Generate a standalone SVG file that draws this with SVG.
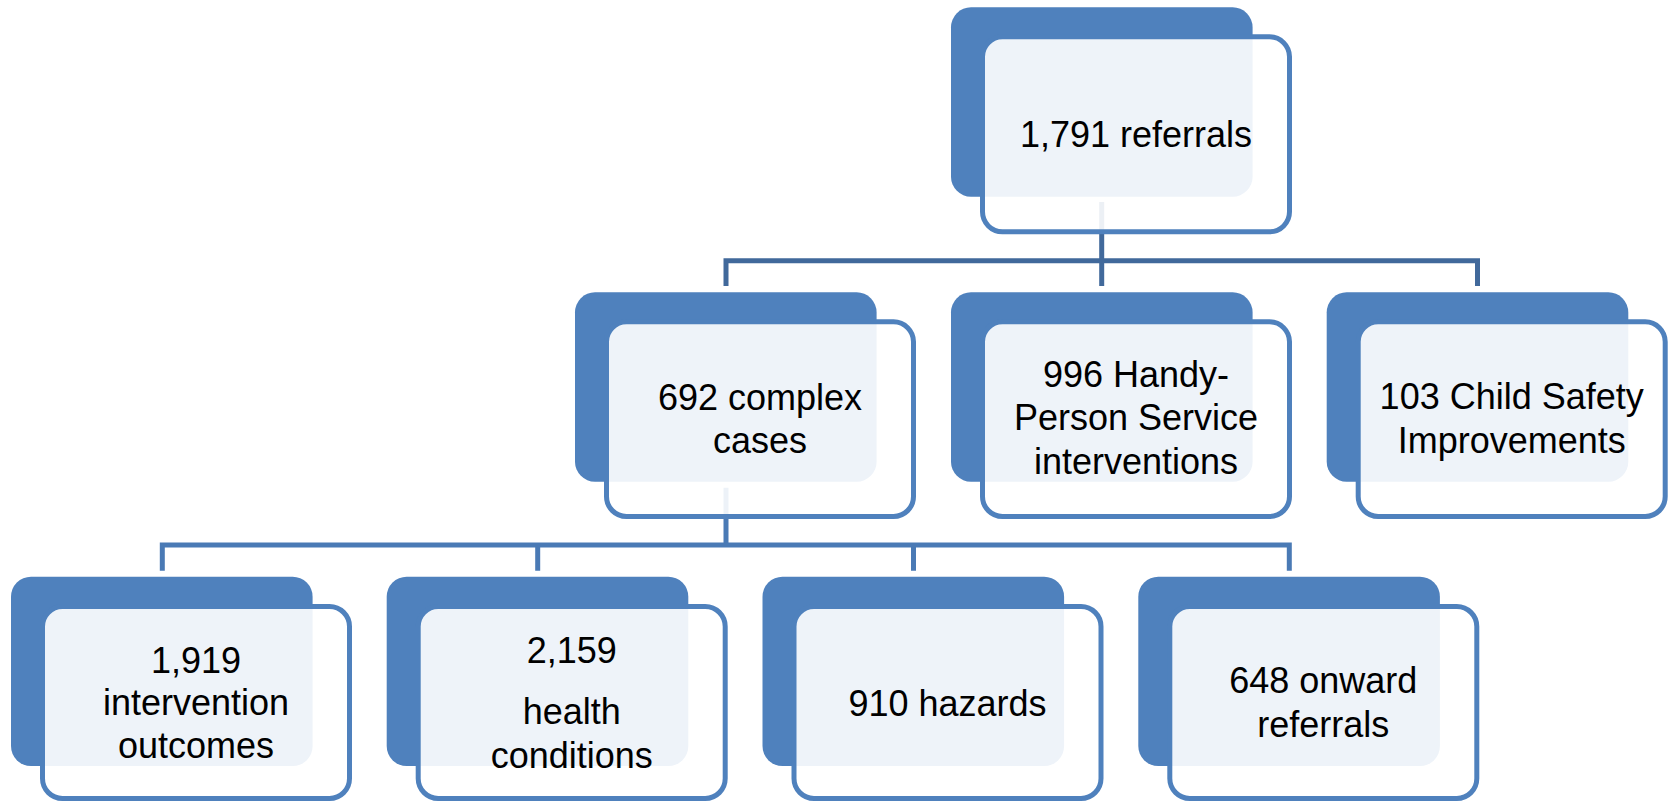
<svg xmlns="http://www.w3.org/2000/svg" width="1672" height="802" viewBox="0 0 1672 802">
<style>
.back{fill:#4F81BD;}
.front{fill:#FFFFFF;fill-opacity:0.9;stroke:#4F81BD;stroke-width:5;}
.lbl{font-family:"Liberation Sans",Arial,sans-serif;font-size:36px;fill:#000000;text-anchor:middle;}
.c1{fill:none;stroke:#41699B;stroke-width:5;}
.c2{fill:none;stroke:#4A7AB5;stroke-width:5;}
</style>
<rect width="1672" height="802" fill="#FFFFFF"/>
<g id="connectors">
<path class="c1" d="M1101.7 202 V286 M726 286 V260.7 H1477.5 V286"/>
<path class="c2" d="M726 487.7 V545 M162.3 570.7 V545 H1289.3 V570.7 M537.7 545 V570.7 M913.5 545 V570.7"/>
</g>
<g id="n-referrals">
<rect class="back" x="951" y="7.3" width="301.6" height="189.4" rx="20"/>
<rect class="front" x="982.5" y="36.8" width="307" height="195" rx="20"/>
<text class="lbl" x="1136" y="146.7">1,791 referrals</text>
</g>
<g id="n-complex">
<rect class="back" x="575" y="292.3" width="301.6" height="189.4" rx="20"/>
<rect class="front" x="606.5" y="321.8" width="307" height="194.7" rx="20"/>
<text class="lbl" x="760" y="410">692 complex</text>
<text class="lbl" x="760" y="452.7">cases</text>
</g>
<g id="n-handy">
<rect class="back" x="951" y="292.3" width="301.6" height="189.4" rx="20"/>
<rect class="front" x="982.5" y="321.8" width="307" height="194.7" rx="20"/>
<text class="lbl" x="1136" y="386.7">996 Handy-</text>
<text class="lbl" x="1136" y="430">Person Service</text>
<text class="lbl" x="1136" y="474.3">interventions</text>
</g>
<g id="n-child">
<rect class="back" x="1326.7" y="292.3" width="301.6" height="189.4" rx="20"/>
<rect class="front" x="1358.2" y="321.8" width="307" height="194.7" rx="20"/>
<text class="lbl" x="1511.7" y="409">103 Child Safety</text>
<text class="lbl" x="1511.7" y="453.3">Improvements</text>
</g>
<g id="n-outcomes">
<rect class="back" x="11" y="576.7" width="301.6" height="189.4" rx="20"/>
<rect class="front" x="42.5" y="606.5" width="307" height="192" rx="20"/>
<text class="lbl" x="196" y="672.7">1,919</text>
<text class="lbl" x="196" y="715">intervention</text>
<text class="lbl" x="196" y="758.3">outcomes</text>
</g>
<g id="n-health">
<rect class="back" x="386.7" y="576.7" width="301.6" height="189.4" rx="20"/>
<rect class="front" x="418.2" y="606.5" width="307" height="192" rx="20"/>
<text class="lbl" x="571.7" y="662.7">2,159</text>
<text class="lbl" x="571.7" y="724">health</text>
<text class="lbl" x="571.7" y="768.3">conditions</text>
</g>
<g id="n-hazards">
<rect class="back" x="762.5" y="576.7" width="301.6" height="189.4" rx="20"/>
<rect class="front" x="794" y="606.5" width="307" height="192" rx="20"/>
<text class="lbl" x="947.5" y="716">910 hazards</text>
</g>
<g id="n-onward">
<rect class="back" x="1138.3" y="576.7" width="301.6" height="189.4" rx="20"/>
<rect class="front" x="1169.8" y="606.5" width="307" height="192" rx="20"/>
<text class="lbl" x="1323.3" y="693.3">648 onward</text>
<text class="lbl" x="1323.3" y="736.7">referrals</text>
</g>
</svg>
